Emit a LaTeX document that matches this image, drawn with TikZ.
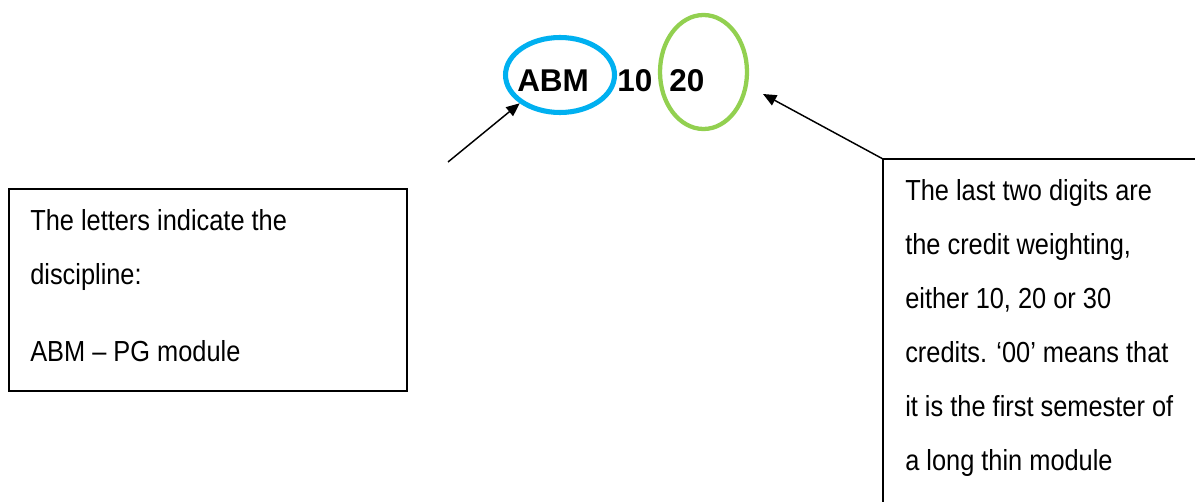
\documentclass[tikz,border=0pt]{standalone}
\usepackage{fontspec}
\setmainfont{Liberation Sans}
\newfontfamily\bodyfont[FakeStretch=0.875,Ligatures=TeX]{Liberation Sans}
\usetikzlibrary{shapes.geometric,arrows.meta}
\definecolor{codeblue}{HTML}{00B0F0}
\definecolor{codegreen}{HTML}{92D050}
\tikzset{
  codepart/.style={font=\fontsize{23.6pt}{28pt}\selectfont\bfseries, inner sep=0pt, anchor=base west},
  ring/.style={ellipse, draw, inner sep=0pt},
  notebox/.style={draw, line width=1.1pt, inner sep=0pt, outer sep=0pt, anchor=north west},
  notetext/.style={inner sep=0pt, anchor=base west, align=left},
  pointer/.style={line width=1.1pt, -{Triangle[length=10pt,width=8.5pt]}}
}
\newcommand{\notefont}{\bodyfont\fontsize{21.75pt}{40.5pt}\selectfont}
\begin{document}
\begin{tikzpicture}[x=0.75pt,y=-0.75pt]
  \useasboundingbox (0,0) rectangle (1195,502);
  \clip (0,0) rectangle (1195,502);

  % module code
  \node[codepart] (abm) at (517,92) {ABM};
  \node[codepart] (ten) at (617,92) {10};
  \node[codepart] (twenty) at (669,92) {20};

  % highlight rings
  \node[ring, draw=codeblue, line width=3.8pt, minimum width=81.75pt, minimum height=56.25pt] (abmring) at (560,75) {};
  \node[ring, draw=codegreen, line width=3.2pt, minimum width=65.25pt, minimum height=85.5pt] (creditring) at (703.5,72) {};

  % explanation boxes
  \node[notebox, minimum width=298.5pt, minimum height=151.5pt] (leftbox) at (9,189) {};
  \node[notetext] (lefttext) at (30,231) {\parbox[t]{290pt}{\notefont
    The letters indicate the\\
    discipline:\par\vspace{17.25pt}
    ABM – PG module}};

  \node[notebox, minimum width=260pt, minimum height=280pt] (rightbox) at (883,159) {};
  \node[notetext] (righttext) at (905,201) {\parbox[t]{220pt}{\notefont
    The last two digits are\\
    the credit weighting,\\
    either 10, 20 or 30\\
    credits. ‘00’ means that\\
    it is the first semester of\\
    a long thin module}};

  % pointers
  \coordinate (lefttail) at (448,162);
  \coordinate (righttip) at (763,94);
  \draw[pointer] (lefttail) -- (abmring.south west);
  \draw[pointer] (rightbox.north west) -- (righttip);
\end{tikzpicture}
\end{document}
